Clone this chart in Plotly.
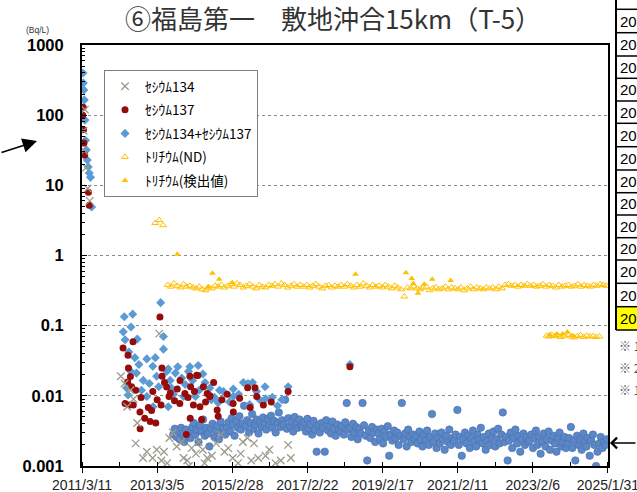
import plotly.graph_objects as go

# ---------------- data (dates, Bq/L) ----------------
cs134_dates = ["2011-03-25","2011-04-01","2011-04-08","2011-04-20","2011-05-05","2011-05-25",
"2012-03-20","2012-04-25","2012-05-20","2012-06-20","2012-07-20","2012-08-10","2012-08-25","2012-10-20","2012-11-25",
"2013-01-20","2013-03-01","2013-03-25","2013-04-15","2013-05-10","2013-07-01","2013-08-05","2013-10-25","2013-11-15","2013-12-20",
"2014-02-01","2014-03-15","2014-04-10","2014-05-20","2014-07-01","2014-08-15","2014-09-25","2014-11-10",
"2015-01-20","2015-03-05","2015-04-25","2015-06-10","2015-07-25","2015-09-25","2015-11-05",
"2016-01-15","2016-04-20","2016-08-20","2016-09-15",
"2013-06-10","2013-09-10","2014-01-05","2014-06-05","2014-12-15","2015-05-20","2015-08-30","2016-02-20","2016-06-10"]
cs134_vals = [60,31,120,18,9,6,
0.019,0.015,0.0070,0.012,0.0090,0.0021,0.0041,0.0013,0.0016,
0.0013,0.0017,0.077,0.0012,0.0016,0.0025,0.0030,0.0022,0.0013,0.0012,
0.0018,0.0015,0.0022,0.0017,0.0013,0.0014,0.0021,0.0028,
0.0018,0.0013,0.0011,0.0022,0.0025,0.0021,0.0013,
0.0014,0.0011,0.0020,0.0013,
0.0011,0.0019,0.0010,0.0011,0.0016,0.0015,0.0012,0.0017,0.0012]

cs137_dates = ["2011-03-18","2011-03-22","2011-03-26","2011-03-30","2011-04-06","2011-05-12","2011-05-20",
"2012-04-10","2012-05-28","2012-07-15","2012-06-20","2012-05-25","2012-07-01","2012-04-30","2012-06-10","2012-07-18","2012-09-20","2012-11-05","2012-12-28","2013-02-20","2012-09-22",
"2013-01-22","2013-04-01","2013-04-20","2013-04-22","2013-04-12","2013-06-05","2013-06-28","2013-10-12","2013-10-10","2013-11-28","2013-12-12",
"2014-01-15","2014-01-22","2014-01-18","2014-02-18","2014-03-22","2014-04-01","2014-04-22","2014-05-08","2014-07-01","2014-07-26","2014-07-28","2014-10-05","2014-10-15",
"2015-03-08","2015-03-10","2015-07-26","2015-10-05","2015-10-22","2015-12-25","2016-08-20","2018-04-08",
"2012-06-01","2012-08-10","2012-10-01","2012-12-10","2013-01-10","2013-03-05","2013-05-15","2013-07-10","2013-08-20","2013-09-15",
"2013-12-28","2014-02-28","2014-05-25","2014-06-15","2014-09-01","2014-11-20","2015-01-10","2015-05-10","2015-08-20","2016-03-10"]
cs137_vals = [100,130,62,40,27,8.0,5.2,
0.048,0.038,0.059,0.0188,0.0158,0.0135,0.0078,0.0074,0.0074,0.0059,0.0048,0.0043,0.0041,0.0034,
0.0115,0.133,0.025,0.019,0.0074,0.0134,0.0098,0.0166,0.0078,0.0108,0.0028,
0.019,0.0135,0.0048,0.0074,0.0197,0.0195,0.0070,0.0046,0.0108,0.0098,0.010,0.0063,0.0051,
0.0078,0.0059,0.013,0.013,0.0098,0.0074,0.0115,0.026,
0.025,0.012,0.0095,0.0068,0.0062,0.0088,0.0155,0.011,0.0085,0.0125,
0.0095,0.0115,0.0135,0.0082,0.0155,0.0088,0.0105,0.0092,0.0068,0.0082]

sum_dates = ["2011-03-20","2011-03-24","2011-03-29","2011-04-02","2011-04-08","2011-04-14","2011-04-22","2011-05-01","2011-05-10","2011-05-20","2011-06-01","2011-06-12",
"2012-04-22","2012-07-12","2012-04-12","2012-06-25","2012-08-25","2013-04-08","2013-05-05","2012-11-25","2013-01-22","2013-06-20",
"2014-01-15","2014-04-05","2013-10-28","2014-06-10","2014-04-15","2014-10-28","2015-03-10","2015-06-15","2015-09-12","2016-01-15","2016-08-20","2016-06-20",
"2013-05-05","2013-02-15","2013-06-05","2013-08-28","2014-01-01","2012-06-18","2012-08-18","2012-10-22","2012-11-25","2013-07-08","2013-01-25","2013-07-22","2013-06-20","2013-11-15",
"2014-07-26","2014-08-10","2014-10-15","2015-03-10","2015-07-30","2015-10-20","2016-01-10","2012-04-30","2012-08-02","2012-05-28","2012-05-15","2018-04-08",
"2012-06-05","2012-09-10","2012-10-05","2012-12-20","2013-02-28","2013-03-20","2013-08-10","2013-09-20","2013-12-01","2014-02-10",
"2014-03-10","2014-05-20","2014-09-10","2014-12-05","2015-02-01","2015-05-01","2015-08-15","2015-11-20","2016-03-20","2016-05-10"]
sum_vals = [398,287,228,165,85,44,32,23,18.3,15,13,4.9,
0.134,0.146,0.0817,0.0955,0.0644,0.213,0.0463,0.0336,0.0264,0.0242,
0.026,0.027,0.0179,0.0155,0.012,0.012,0.0125,0.0155,0.0155,0.0091,0.0135,0.0088,
0.070,0.035,0.0223,0.0211,0.0223,0.0228,0.0211,0.0166,0.0098,0.0166,0.0070,0.0129,0.0070,0.0098,
0.0129,0.0088,0.0080,0.0098,0.0150,0.0115,0.0135,0.063,0.035,0.0103,0.0129,0.028,
0.042,0.028,0.012,0.015,0.019,0.0135,0.0105,0.026,0.0145,0.0165,
0.0098,0.0205,0.0095,0.0115,0.0082,0.0105,0.0075,0.0088,0.0095,0.0072]

later_dates = (
"2013-08-08 2013-08-22 2013-09-08 2013-09-22 2013-10-08 2013-10-22 2013-11-08 2013-11-22 2013-12-08 2013-12-22 "
"2014-01-08 2014-01-22 2014-02-08 2014-02-22 2014-03-08 2014-03-22 2014-04-08 2014-04-22 2014-05-08 2014-05-22 2014-06-08 2014-06-22 "
"2014-07-08 2014-07-22 2014-08-08 2014-08-22 2014-09-08 2014-09-22 2014-10-08 2014-10-22 2014-11-08 2014-11-22 2014-12-08 2014-12-22 "
"2015-01-08 2015-01-22 2015-02-08 2015-02-22 2015-03-08 2015-03-22 2015-04-08 2015-04-22 2015-05-08 2015-05-22 2015-06-08 2015-06-22 "
"2015-07-08 2015-07-22 2015-08-08 2015-08-22 2015-09-08 2015-09-22 2015-10-08 2015-10-22 2015-11-08 2015-11-22 2015-12-08 2015-12-22 "
"2016-01-08 2016-01-22 2016-02-08 2016-02-22 2016-03-08 2016-03-22 2016-04-08 2016-04-22 2016-05-08 2016-05-22 2016-06-08 2016-06-22 "
"2016-07-08 2016-07-22 2016-08-08 2016-08-22 2016-09-08 2016-09-22 2016-10-08 2016-10-22 2016-11-08 2016-11-22 2016-12-08 2016-12-22 "
"2017-01-08 2017-01-22 2017-02-08 2017-02-22 2017-03-08 2017-03-22 2017-04-08 2017-04-22 2017-05-08 2017-05-22 2017-06-08 2017-06-22 "
"2017-07-08 2017-07-22 2017-08-08 2017-08-22 2017-09-08 2017-09-22 2017-10-08 2017-10-22 2017-11-08 2017-11-22 2017-12-08 2017-12-22 "
"2018-01-08 2018-01-22 2018-02-08 2018-02-22 2018-03-08 2018-03-22 2018-04-08 2018-04-22 2018-05-08 2018-05-22 2018-06-08 2018-06-22 "
"2018-07-08 2018-07-22 2018-08-08 2018-08-22 2018-09-08 2018-09-22 2018-10-08 2018-10-22 2018-11-08 2018-11-22 2018-12-08 2018-12-22 "
"2019-01-08 2019-01-22 2019-02-08 2019-02-22 2019-03-08 2019-03-22 2019-04-08 2019-04-22 2019-05-08 2019-05-22 2019-06-08 2019-06-22 "
"2019-07-08 2019-07-22 2019-08-08 2019-08-22 2019-09-08 2019-09-22 2019-10-08 2019-10-22 2019-11-08 2019-11-22 2019-12-08 2019-12-22 "
"2020-01-08 2020-01-22 2020-02-08 2020-02-22 2020-03-08 2020-03-22 2020-04-08 2020-04-22 2020-05-08 2020-05-22 2020-06-08 2020-06-22 "
"2020-07-08 2020-07-22 2020-08-08 2020-08-22 2020-09-08 2020-09-22 2020-10-08 2020-10-22 2020-11-08 2020-11-22 2020-12-08 2020-12-22 "
"2021-01-08 2021-01-22 2021-02-08 2021-02-22 2021-03-08 2021-03-22 2021-04-08 2021-04-22 2021-05-08 2021-05-22 2021-06-08 2021-06-22 "
"2021-07-08 2021-07-22 2021-08-08 2021-08-22 2021-09-08 2021-09-22 2021-10-08 2021-10-22 2021-11-08 2021-11-22 2021-12-08 2021-12-22 "
"2022-01-08 2022-01-22 2022-02-08 2022-02-22 2022-03-08 2022-03-22 2022-04-08 2022-04-22 2022-05-08 2022-05-22 2022-06-08 2022-06-22 "
"2022-07-08 2022-07-22 2022-08-08 2022-08-22 2022-09-08 2022-09-22 2022-10-08 2022-10-22 2022-11-08 2022-11-22 2022-12-08 2022-12-22 "
"2023-01-08 2023-01-22 2023-02-08 2023-02-22 2023-03-08 2023-03-22 2023-04-08 2023-04-22 2023-05-08 2023-05-22 2023-06-08 2023-06-22 "
"2023-07-08 2023-07-22 2023-08-08 2023-08-22 2023-09-08 2023-09-22 2023-10-08 2023-10-22 2023-11-08 2023-11-22 2023-12-08 2023-12-22 "
"2024-01-08 2024-01-22 2024-02-08 2024-02-22 2024-03-08 2024-03-22 2024-04-08 2024-04-22 2024-05-08 2024-05-22 2024-06-08 2024-06-22 "
"2024-07-08 2024-07-22 2024-08-08 2024-08-22 2024-09-08 2024-09-22 2024-10-08 2024-10-22 2024-11-08 2024-11-22 2024-12-08 2024-12-22 "
"2025-01-08 2025-01-22"
).split()
later_vals = [
0.0028,0.0034,0.0026,0.0031,0.0024,0.0035,0.0029,0.0022,0.0033,0.0027,
0.0030,0.0025,0.0036,0.0041,0.0028,0.0033,0.0022,0.0038,0.0031,0.0046,0.0027,0.0035,0.0029,0.0019,0.0034,0.0040,0.0026,0.0032,0.0037,0.0024,0.0043,0.0030,0.0035,0.0028,
0.0036,0.0042,0.0031,0.0048,0.0039,0.0027,0.0044,0.0035,0.0051,0.0033,0.0040,0.0072,0.0037,0.0045,0.0030,0.0041,0.0055,0.0034,0.0039,0.0046,0.0029,0.0043,0.0036,0.0049,
0.0040,0.0033,0.0047,0.0038,0.0052,0.0035,0.0044,0.0030,0.0041,0.0058,0.0036,0.0045,0.0039,0.0088,0.0034,0.0048,0.0037,0.0043,0.0031,0.0050,0.0040,0.0035,0.0046,0.0038,
0.0036,0.0042,0.0031,0.0047,0.0034,0.0039,0.0028,0.0044,0.0033,0.0016,0.0038,0.0030,0.0041,0.0035,0.0016,0.0045,0.0032,0.0037,0.0029,0.0043,0.0034,0.0027,0.0039,0.0033,
0.0031,0.0037,0.0028,0.0042,0.0079,0.0033,0.0035,0.0026,0.0040,0.0030,0.0036,0.0024,0.0034,0.0029,0.0079,0.0038,0.0027,0.0012,0.0032,0.0025,0.0036,0.0030,0.0022,0.0033,
0.0029,0.0024,0.0034,0.0021,0.0031,0.0026,0.0037,0.0014,0.0028,0.0023,0.0032,0.0025,0.0030,0.0020,0.0027,0.0079,0.0024,0.0029,0.0019,0.0033,0.0026,0.0022,0.0028,0.0024,
0.0027,0.0021,0.0031,0.0024,0.0019,0.0028,0.0023,0.0032,0.0020,0.0026,0.0055,0.0022,0.0029,0.0018,0.0025,0.0021,0.0030,0.0024,0.0017,0.0027,0.0022,0.0033,0.0020,0.0025,
0.0023,0.0028,0.0063,0.0020,0.0026,0.0014,0.0024,0.0030,0.0021,0.0027,0.0018,0.0025,0.0032,0.0022,0.0019,0.0028,0.0024,0.0035,0.0021,0.0026,0.0017,0.0023,0.0029,0.0020,
0.0025,0.0031,0.0019,0.0024,0.0034,0.0021,0.0028,0.0058,0.0022,0.0026,0.0012,0.0023,0.0030,0.0018,0.0025,0.0033,0.0021,0.0027,0.0016,0.0024,0.0029,0.0020,0.0026,0.0022,
0.0023,0.0028,0.0018,0.0025,0.0032,0.0020,0.0026,0.0015,0.0022,0.0029,0.0019,0.0024,0.0031,0.0017,0.0023,0.0027,0.0021,0.0016,0.0025,0.0030,0.0019,0.0022,0.0026,0.0018,
0.0021,0.0025,0.0036,0.0018,0.0023,0.0012,0.0027,0.0020,0.0024,0.0017,0.0029,0.0022,0.0019,0.0025,0.0014,0.0023,0.0028,0.0020,0.0010,0.0016,0.0021,0.0026,0.0018,0.0022,
0.0020,0.0024]

h3_nd_dates = ["2013-02-15","2013-03-25","2013-05-01"] + (
"2013-06-15 2013-07-15 2013-08-15 2013-09-15 2013-10-15 2013-11-15 2013-12-15 "
"2014-01-15 2014-02-15 2014-03-15 2014-04-15 2014-05-15 2014-06-15 2014-07-15 2014-08-15 2014-09-15 2014-10-15 2014-11-15 2014-12-15 "
"2015-01-15 2015-02-15 2015-03-15 2015-04-15 2015-05-15 2015-06-15 2015-07-15 2015-08-15 2015-09-15 2015-10-15 2015-11-15 2015-12-15 "
"2016-01-15 2016-02-15 2016-03-15 2016-04-15 2016-05-15 2016-06-15 2016-07-15 2016-08-15 2016-09-15 2016-10-15 2016-11-15 2016-12-15 "
"2017-01-15 2017-02-15 2017-03-15 2017-04-15 2017-05-15 2017-06-15 2017-07-15 2017-08-15 2017-09-15 2017-10-15 2017-11-15 2017-12-15 "
"2018-01-15 2018-02-15 2018-03-15 2018-04-15 2018-05-15 2018-06-15 2018-07-15 2018-08-15 2018-09-15 2018-10-15 2018-11-15 2018-12-15 "
"2019-01-15 2019-02-15 2019-03-15 2019-04-15 2019-05-15 2019-06-15 2019-07-15 2019-08-15 2019-09-15 2019-10-15 2019-11-15 2019-12-15 "
"2020-01-15 2020-02-15 2020-03-15 2020-04-15 2020-05-15 2020-06-15 2020-07-15 2020-08-15 2020-09-15 2020-10-15 2020-11-15 2020-12-15 "
"2021-01-15 2021-02-15 2021-03-15 2021-04-15 2021-05-15 2021-06-15 2021-07-15 2021-08-15 2021-09-15 2021-10-15 2021-11-15 2021-12-15 "
"2022-01-15 2022-02-15 2022-03-15 2022-04-15 2022-05-15 2022-06-15 2022-07-15 2022-08-15 2022-09-15 2022-10-15 2022-11-15 2022-12-15 "
"2023-01-15 2023-02-15 2023-03-15 2023-04-15 2023-05-15 2023-06-15 2023-07-15 2023-08-15 2023-09-15 2023-10-15 2023-11-15 2023-12-15 "
"2024-01-15 2024-02-15 2024-03-15 2024-04-15 2024-05-15 2024-06-15 2024-07-15 2024-08-15 2024-09-15 2024-10-15 2024-11-15 2024-12-15 "
"2025-01-15 "
"2023-06-20 2023-07-10 2023-08-05 2023-09-05 2023-10-05 2023-11-05 2023-12-05 2024-01-20 2024-02-10 "
"2024-03-10 2024-04-10 2024-05-10 2024-06-10 2024-07-10 2024-08-10 2024-09-10 2024-10-10 2024-11-10"
).split()
h3_nd_vals = [2.9,3.2,2.7,
0.38,0.36,0.40,0.37,0.35,0.39,0.36,
0.37,0.35,0.34,0.36,0.33,0.32,0.35,0.34,0.37,0.36,0.38,0.35,
0.37,0.39,0.36,0.40,0.38,0.35,0.37,0.39,0.36,0.34,0.38,0.36,
0.35,0.38,0.37,0.39,0.36,0.40,0.38,0.35,0.37,0.39,0.36,0.38,
0.36,0.38,0.35,0.37,0.39,0.36,0.34,0.37,0.38,0.35,0.37,0.36,
0.38,0.36,0.39,0.37,0.35,0.38,0.36,0.40,0.37,0.35,0.38,0.36,
0.37,0.35,0.38,0.36,0.34,0.37,0.35,0.33,0.26,0.35,0.34,0.36,
0.34,0.33,0.35,0.36,0.32,0.34,0.35,0.33,0.34,0.36,0.33,0.35,
0.34,0.33,0.35,0.32,0.34,0.36,0.33,0.35,0.34,0.33,0.35,0.34,
0.35,0.33,0.36,0.34,0.38,0.39,0.37,0.38,0.36,0.38,0.37,0.39,
0.37,0.38,0.36,0.37,0.39,0.36,0.38,0.37,0.35,0.38,0.36,0.37,
0.38,0.36,0.37,0.39,0.36,0.38,0.37,0.36,0.38,0.37,0.39,0.38,
0.37,
0.072,0.070,0.074,0.071,0.073,0.069,0.072,0.074,0.070,
0.068,0.071,0.073,0.069,0.072,0.070,0.071,0.069,0.070]

h3_det_dates = ["2013-09-15","2014-07-10","2014-08-20","2014-10-25","2015-03-01","2018-06-01",
"2019-10-01","2019-11-25","2019-12-10","2020-01-25","2020-03-25","2020-06-10","2020-12-05",
"2023-07-20","2023-09-25","2023-11-20","2024-01-05","2024-02-25"]
h3_det_vals = [1.04,0.36,0.56,0.46,0.41,0.54,
0.57,0.47,0.40,0.29,0.39,0.46,0.44,
0.074,0.076,0.076,0.081,0.072]

y_tick_vals = [0.001, 0.01, 0.1, 1, 10, 100, 1000]
y_tick_text = ["0.001", "0.01", "0.1", "1", "10", "100", "1000"]

# ---------------- figure ----------------
W, H = 637, 492
ML, MR, MT, MB = 82, 29, 45, 26
PW, PH = W - ML - MR, H - MT - MB

def px(x):
    return (x - ML) / PW

def py(y):
    return 1 - (y - MT) / PH

BLUE_C = "#5a87c5"
BLUE_D = "#5b9bd5"
RED = "#960b0b"
GRAY = "#9b9b8c"
GOLD = "#ffc000"
JP = "Noto Sans CJK JP"

fig = go.Figure()
fig.add_trace(go.Scatter(x=later_dates, y=later_vals, mode="markers", showlegend=False,
                         marker=dict(symbol="circle", size=7.5, color=BLUE_C,
                                     line=dict(width=0.6, color="#4c6fae"))))
fig.add_trace(go.Scatter(x=sum_dates, y=sum_vals, mode="markers", name="ｾｼｳﾑ134+ｾｼｳﾑ137",
                         legendgroup="c", legendrank=3,
                         marker=dict(symbol="diamond", size=7, color=BLUE_D)))
fig.add_trace(go.Scatter(x=cs137_dates, y=cs137_vals, mode="markers", name="ｾｼｳﾑ137",
                         legendgroup="b", legendrank=2,
                         marker=dict(symbol="circle", size=7, color=RED)))
fig.add_trace(go.Scatter(x=cs134_dates, y=cs134_vals, mode="markers", name="ｾｼｳﾑ134",
                         legendgroup="a", legendrank=1,
                         marker=dict(symbol="x-thin", size=7.5, color=GRAY,
                                     line=dict(width=1.3, color=GRAY))))
fig.add_trace(go.Scatter(x=h3_nd_dates, y=h3_nd_vals, mode="markers", name="ﾄﾘﾁｳﾑ(ND)",
                         legendgroup="d", legendrank=4,
                         marker=dict(symbol="triangle-up-open", size=6, color=GOLD,
                                     line=dict(width=1, color=GOLD))))
fig.add_trace(go.Scatter(x=h3_det_dates, y=h3_det_vals, mode="markers", name="ﾄﾘﾁｳﾑ(検出値)",
                         legendgroup="e", legendrank=5,
                         marker=dict(symbol="triangle-up", size=6, color=GOLD)))

DAY = 86400000
fig.update_xaxes(
    type="date", range=["2011-03-11", "2025-01-31 06:00"], automargin=False,
    tick0="2011-03-11", dtick=725 * DAY, tickformat="%Y/%-m/%-d",
    ticklabeloverflow="allow",
    ticks="outside", ticklen=5, tickcolor="black", tickwidth=1,
    minor=dict(tick0="2011-03-11", dtick=362.5 * DAY, ticks="inside", ticklen=4,
               tickcolor="black", showgrid=False),
    showgrid=False, zeroline=False,
    showline=True, linecolor="black", linewidth=2, mirror=True,
    tickfont=dict(family="Liberation Sans", size=14, color="#222222"),
)
minor_vals = [m * 10 ** e for e in range(-3, 3) for m in range(2, 10)]
fig.update_yaxes(
    type="log", range=[-3, 3], automargin=False,
    tickmode="array", tickvals=y_tick_vals, ticktext=y_tick_text,
    ticks="inside", ticklen=5, tickcolor="black",
    minor=dict(tickmode="array", tickvals=minor_vals, ticks="inside", ticklen=3,
               tickcolor="black", showgrid=False),
    showgrid=True, gridcolor="#8a8a8a", griddash="dot", gridwidth=1,
    zeroline=False, showline=True, linecolor="black", linewidth=2, mirror=True,
    ticklabelstandoff=13,
    tickfont=dict(family="Liberation Sans", size=16.5, color="black", weight="bold"),
)

annotations = [
    dict(text="(Bq/L)", x=px(24), y=py(23), xref="paper", yref="paper", showarrow=False,
         font=dict(family="Liberation Sans", size=8.5, color="#333333")),
    # left arrow
    dict(text="", x=px(37), y=py(141), xref="paper", yref="paper", showarrow=True,
         ax=-37, ay=12, arrowhead=2, arrowsize=1.8, arrowwidth=1.6, arrowcolor="black"),
    # right arrow
    dict(text="", x=px(610), y=py(443), xref="paper", yref="paper", showarrow=True,
         ax=30, ay=0, arrowhead=4, arrowsize=1.3, arrowwidth=1.6, arrowcolor="black"),
]

shapes = []
row_edges = [9.3, 32.7, 56, 78.3, 101, 123.3, 146.7, 170, 192.7, 215, 237.7, 260, 283.3, 306.7, 330]
shapes.append(dict(type="rect", xref="paper", yref="paper", x0=px(616), x1=px(645),
                   y0=py(330), y1=py(306.7), fillcolor="#ffff00", line=dict(width=0), layer="below"))
for ry in row_edges:
    shapes.append(dict(type="line", xref="paper", yref="paper", x0=px(616), x1=px(645),
                       y0=py(ry), y1=py(ry), line=dict(color="black", width=1.5)))
shapes.append(dict(type="line", xref="paper", yref="paper", x0=px(616), x1=px(616),
                   y0=py(-5), y1=py(330), line=dict(color="black", width=2)))
for i in range(len(row_edges) - 1):
    yc = (row_edges[i] + row_edges[i + 1]) / 2
    annotations.append(dict(text="20", x=px(618), y=py(yc), xref="paper", yref="paper",
                            xanchor="left", yanchor="middle", showarrow=False,
                            font=dict(family="Liberation Sans", size=15, color="black")))
for yy, t in [(345, "※ 1"), (367, "※ 2"), (389, "※ 1")]:
    annotations.append(dict(text=t, x=px(617), y=py(yy), xref="paper", yref="paper",
                            xanchor="left", yanchor="middle", showarrow=False,
                            font=dict(family=JP, size=12, color="#555555")))

fig.update_layout(
    width=W, height=H,
    margin=dict(l=ML, r=MR, t=MT, b=MB, autoexpand=False),
    paper_bgcolor="white", plot_bgcolor="white",
    title=dict(text="⑥福島第一　敷地沖合15km（T-5）", x=333 / W, xanchor="center",
               y=1 - 20 / H, yanchor="middle", yref="container", automargin=False,
               font=dict(family=JP, size=26, color="#333333")),
    legend=dict(x=px(104), y=py(70), xanchor="left", yanchor="top",
                bgcolor="white", bordercolor="#7f7f7f", borderwidth=1,
                traceorder="grouped", tracegroupgap=3,
                font=dict(family=JP, size=13.5, color="black")),
    annotations=annotations, shapes=shapes,
    showlegend=True,
)

fig.write_html("out.html", config={"displayModeBar": False},
               post_script="document.body.style.margin='0px';")
